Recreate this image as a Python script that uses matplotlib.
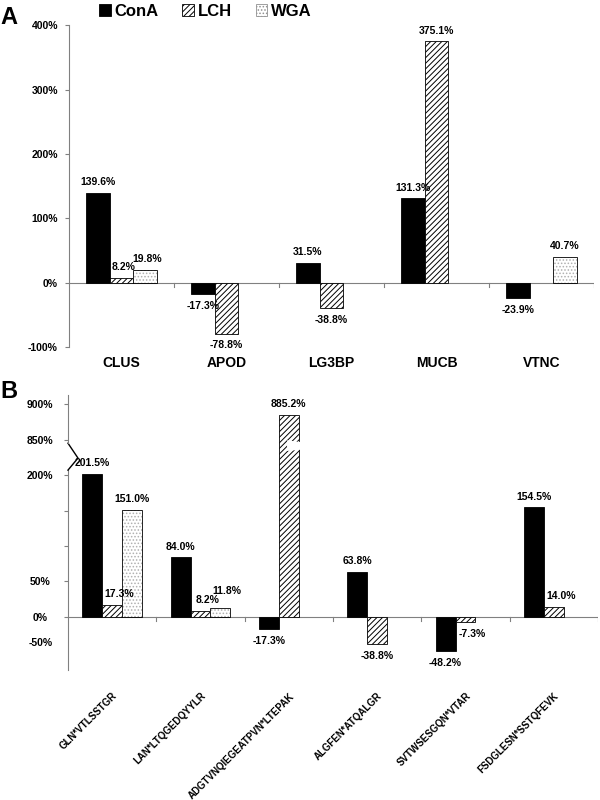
import numpy as np
import matplotlib.pyplot as plt
from matplotlib.patches import Patch, Polygon

plt.rcParams['font.family'] = ['Liberation Sans', 'DejaVu Sans']
plt.rcParams['font.weight'] = 'bold'
plt.rcParams['hatch.linewidth'] = 0.7

series = ['ConA', 'LCH', 'WGA']

# panel A: proteins
proteins = ['CLUS', 'APOD', 'LG3BP', 'MUCB', 'VTNC']
cona_a = [139.6, -17.3, 31.5, 131.3, -23.9]
lch_a = [8.2, -78.8, -38.8, 375.1, np.nan]
wga_a = [19.8, np.nan, np.nan, np.nan, 40.7]

# panel B: glycopeptides
peptides = ['GLN*VTLSSTGR', 'LAN*LTQGEDQYYLR', 'ADGTVNQIEGEATPVN*LTEPAK',
            'ALGFEN*ATQALGR', 'SVTWSESGQN*VTAR', 'FSDGLESN*SSTQFEVK']
cona_b = [201.5, 84.0, -17.3, 63.8, -48.2, 154.5]
lch_b = [17.3, 8.2, 885.2, -38.8, -7.3, 14.0]
wga_b = [151.0, 11.8, np.nan, np.nan, np.nan, np.nan]

# broken y axis in B: everything above 850 is pulled down by 600
break_at = 850
shift = 600

AXC = '#808080'
W = 0.225


def squash(v):
    v = np.asarray(v, dtype=float)
    return np.where(v > break_at, v - shift, v)


def draw_group(ax, vals, shown, x, nudge_small=0, fs=7.5):
    off = [-W, 0, W]
    a, b, c = shown
    ax.bar(x + off[0], a, W, color='black', edgecolor='black', lw=0.6, zorder=3)
    ax.bar(x + off[1], b, W, color='white', edgecolor='black', hatch='//////', lw=0.6, zorder=3)
    ax.bar(x + off[2], c, W, color='white', edgecolor='#b0b0b0', hatch='.....', lw=0, zorder=3)
    ax.bar(x + off[2], c, W, fill=False, edgecolor='black', lw=0.6, zorder=3)
    for k in range(3):
        for xi, v, h in zip(x, vals[k], shown[k]):
            if np.isnan(v):
                continue
            dy = 4 if v >= 0 else -5
            dx = 0
            # excel pushed the labels of the short bars a little aside
            if k > 0 and abs(v) < 20:
                dx = nudge_small
                if k == 2 and nudge_small > 2:
                    dy = 9
            ax.annotate(f'{v:.1f}%', xy=(xi + off[k], h), xytext=(dx, dy),
                        textcoords='offset points', ha='center',
                        va='bottom' if v >= 0 else 'top', fontsize=fs, zorder=5)


def cat_ticks(ax, n, depth):
    for b in np.arange(0.5, n, 1.0):
        ax.plot([b, b], [0, -depth], color=AXC, lw=0.8, zorder=2)


fig = plt.figure(figsize=(6, 8), dpi=100)

# ---- panel A
axA = fig.add_axes([0.115, 0.566, 0.875, 0.4025])
xa = np.arange(len(proteins))
draw_group(axA, [cona_a, lch_a, wga_a], [cona_a, lch_a, wga_a], xa, nudge_small=1.5)
axA.axhline(0, color=AXC, lw=0.8, zorder=2)
cat_ticks(axA, len(proteins), 6)
axA.set_xlim(-0.5, len(proteins) - 0.5)
axA.set_ylim(-100, 400)
axA.set_yticks(np.arange(-100, 401, 100))
axA.set_yticklabels([f'{t}%' for t in range(-100, 401, 100)])
axA.tick_params(axis='y', length=3, pad=5, labelsize=7.5, color=AXC)
axA.set_xticks(xa)
axA.set_xticklabels(proteins, fontsize=10)
axA.tick_params(axis='x', length=0, pad=6)
for s in ['top', 'right', 'bottom']:
    axA.spines[s].set_visible(False)
axA.spines['left'].set_color(AXC)

# ---- panel B
axB = fig.add_axes([0.1133, 0.1625, 0.8833, 0.34375])
xb = np.arange(len(peptides))
draw_group(axB, [cona_b, lch_b, wga_b], [squash(cona_b), squash(lch_b), squash(wga_b)], xb,
           nudge_small=5)
axB.axhline(0, color=AXC, lw=0.8, zorder=2)
cat_ticks(axB, len(peptides), 5.5)
axB.set_xlim(-0.5, len(peptides) - 0.5)
axB.set_ylim(-75, 313)
yt = np.arange(0, 301, 50)
ylab = []
for t in yt:
    real = t + shift if t > 200 else t
    ylab.append('' if t in (100, 150) else f'{real}%')
axB.set_yticks(yt)
axB.set_yticklabels(ylab)
axB.tick_params(axis='y', length=3, pad=17, labelsize=7.5, color=AXC)
for lab in axB.get_yticklabels():
    lab.set_ha('center')
axB.annotate('-50%', xy=(0, -37), xycoords=('axes fraction', 'data'), xytext=(-20, 0),
             textcoords='offset points', ha='center', va='center', fontsize=7.5)
axB.set_xticks(xb)
axB.set_xticklabels(peptides, rotation=45, ha='right', rotation_mode='anchor', fontsize=7)
axB.tick_params(axis='x', length=0, pad=15)
for s in ['top', 'right', 'bottom', 'left']:
    axB.spines[s].set_visible(False)

# left axis with a zigzag break
tr = axB.get_yaxis_transform()
zx = 10 / (0.8833 * 600)
axB.plot([0, 0], [-75, 207], color=AXC, lw=0.8, transform=tr, clip_on=False)
axB.plot([0, zx, 0], [207, 224, 245], color='black', lw=1.0, transform=tr, clip_on=False)
axB.plot([0, 0], [245, 313], color=AXC, lw=0.8, transform=tr, clip_on=False)

# white gap across the tall LCH bar
i = int(np.nanargmax(lch_b))
xl, xr = i - 0.02, i + W + 0.02
axB.add_patch(Polygon([(xl, 249), (xr, 245), (xr, 237), (xl, 234)], closed=True,
                      facecolor='white', edgecolor='none', zorder=4))

# legend and panel letters
handles = [Patch(facecolor='black', edgecolor='black', lw=0.6),
           Patch(facecolor='white', edgecolor='black', hatch='//////', lw=0.6),
           Patch(facecolor='white', edgecolor='#909090', hatch='.....', lw=0.6)]
fig.legend(handles, series, loc='upper left', bbox_to_anchor=(0.165, 0.995), ncol=3,
           frameon=False, fontsize=12, handlelength=0.7, handleheight=0.7,
           handletextpad=0.25, columnspacing=1.4, borderaxespad=0, borderpad=0)
fig.text(0.0, 1 - 24 / 800, 'A', fontsize=17, va='baseline')
fig.text(0.0, 1 - 398 / 800, 'B', fontsize=17, va='baseline')

fig.savefig('out.png', dpi=100)
